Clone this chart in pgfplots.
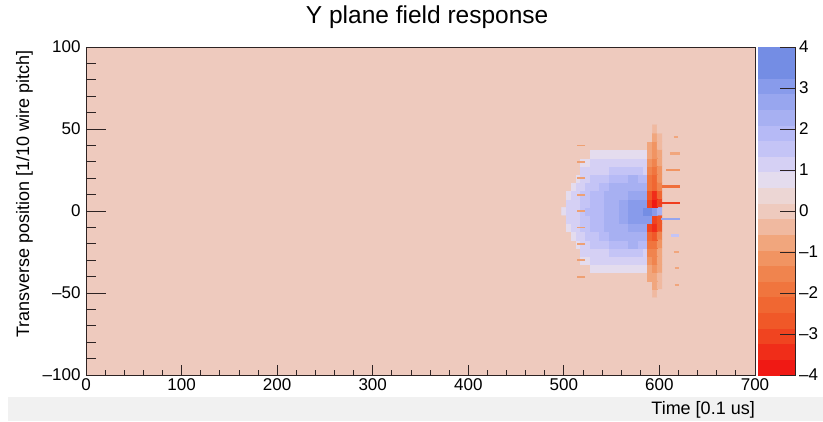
\documentclass[border=0pt]{standalone}
\usepackage{fontspec}
\setmainfont{Liberation Sans}
\usepackage{pgfplots}
\pgfplotsset{compat=1.18}

\definecolor{bgpeach}{RGB}{238,202,190}
\definecolor{framegray}{RGB}{45,35,35}
\definecolor{stripgray}{RGB}{241,241,241}
% streak colours, taken from the colormap bands
\definecolor{sk05}{RGB}{241,166,125}
\definecolor{sk10}{RGB}{241,148,98}
\definecolor{sk20}{RGB}{240,110,58}
\definecolor{sk30}{RGB}{240,60,30}
\definecolor{skblue}{RGB}{150,165,238}
\definecolor{sklblue}{RGB}{196,196,246}
\definecolor{tickorange}{RGB}{238,160,115}

\pgfplotsset{
    colormap={rootfield}{
        rgb255=(240,25,20)   rgb255=(240,45,25)   rgb255=(240,68,32)   rgb255=(240,88,40)
        rgb255=(240,103,50)  rgb255=(240,117,62)  rgb255=(240,132,78)  rgb255=(241,148,98)
        rgb255=(241,166,125) rgb255=(240,185,160) rgb255=(238,202,190) rgb255=(236,214,212)
        rgb255=(228,220,238) rgb255=(213,208,244) rgb255=(196,196,246) rgb255=(182,186,246)
        rgb255=(167,176,242) rgb255=(152,166,239) rgb255=(136,155,235) rgb255=(116,141,228)
        rgb255=(116,141,228)
    },
}

\newcommand{\tickfont}{\fontsize{17}{20}\selectfont}
\newcommand{\labfont}{\fontsize{18}{21}\selectfont}

\begin{document}
\begin{tikzpicture}
    % page = 823 x 421 px, axis box at px (86..755, 47..375)
    \useasboundingbox (-86pt,-46pt) rectangle (737pt,375pt);
    \fill[stripgray] (-78pt,-46pt) rectangle (737pt,-22pt);

    \begin{axis}[
        name=main,
        at={(0pt,0pt)}, anchor=south west,
        scale only axis,
        width=669pt, height=328pt,
        xmin=0, xmax=700, ymin=-100, ymax=100,
        axis background/.style={fill=bgpeach},
        axis on top,
        colormap name=rootfield,
        colormap access=piecewise constant,
        point meta min=-4, point meta max=4,
        xtick={0,100,...,700}, minor x tick num=4,
        ytick={-100,-50,0,50,100}, yticklabels={--100,--50,0,50,100},
        minor y tick num=4,
        tick pos=left, tick align=inside,
        xtick style={/pgfplots/major tick length=10pt, /pgfplots/minor tick length=5pt},
        ytick style={/pgfplots/major tick length=20pt, /pgfplots/minor tick length=10pt},
        tick style={framegray, line width=0.8pt},
        axis line style={framegray, line width=0.8pt},
        tick label style={font=\tickfont, /pgf/number format/assume math mode=true},
        yticklabel style={xshift=-2pt},
        title={Y plane field response},
        title style={font=\fontsize{24.5}{28}\selectfont, at={(axis description cs:0.51,1)},
            anchor=base, yshift=17pt},
        xlabel={Time [0.1 us]},
        xlabel style={font=\labfont, inner sep=0pt, at={(axis description cs:1,-0.08)},
            anchor=north east},
        ylabel={Transverse position [1/10 wire pitch]},
        ylabel style={font=\labfont, inner sep=0pt, at={(axis description cs:-0.079,0.99)},
            anchor=south east},
        colorbar,
        colorbar style={
            at={(parent axis.north east)}, anchor=north west, xshift=-6pt,
            width=38pt,
            ytick={-4,-3,...,4}, yticklabels={--4,--3,--2,--1,0,1,2,3,4},
            axis x line=none, axis y line*=right,
            axis on top,
            tick align=inside, major tick length=16pt,
            tick style={framegray, line width=0.8pt},
            axis line style={framegray, line width=0.8pt},
            yticklabel style={font=\tickfont, xshift=0pt},
        },
    ]

    % field response, 5 x 5 cells around the peak; value = colour level
    \addplot[matrix plot*, mesh/cols=21, point meta=explicit] coordinates {
(500,-50)[.1] (505,-50)[.1] (510,-50)[.1] (515,-50)[.1] (520,-50)[.1] (525,-50)[.1] (530,-50)[.1] (535,-50)[.1] (540,-50)[.1] (545,-50)[.1] (550,-50)[.1] (555,-50)[.1] (560,-50)[.1] (565,-50)[.1] (570,-50)[.1] (575,-50)[.1] (580,-50)[.1] (585,-50)[.1] (590,-50)[.1] (595,-50)[-.5] (600,-50)[.1]

(500,-45)[.1] (505,-45)[.1] (510,-45)[.1] (515,-45)[.1] (520,-45)[.1] (525,-45)[.1] (530,-45)[.1] (535,-45)[.1] (540,-45)[.1] (545,-45)[.1] (550,-45)[.1] (555,-45)[.1] (560,-45)[.1] (565,-45)[.1] (570,-45)[.1] (575,-45)[.1] (580,-45)[.1] (585,-45)[.1] (590,-45)[.1] (595,-45)[-.6] (600,-45)[-.3]

(500,-40)[.1] (505,-40)[.1] (510,-40)[.1] (515,-40)[.1] (520,-40)[.1] (525,-40)[.1] (530,-40)[.1] (535,-40)[.1] (540,-40)[.1] (545,-40)[.1] (550,-40)[.1] (555,-40)[.1] (560,-40)[.1] (565,-40)[.1] (570,-40)[.1] (575,-40)[.1] (580,-40)[.1] (585,-40)[.1] (590,-40)[-.6] (595,-40)[-.8] (600,-40)[-.5]

(500,-35)[.1] (505,-35)[.1] (510,-35)[.1] (515,-35)[.1] (520,-35)[.1] (525,-35)[.1] (530,-35)[.6] (535,-35)[.6] (540,-35)[.6] (545,-35)[.6] (550,-35)[.6] (555,-35)[.6] (560,-35)[.6] (565,-35)[.6] (570,-35)[.6] (575,-35)[.6] (580,-35)[.6] (585,-35)[.6] (590,-35)[-.9] (595,-35)[-1.1] (600,-35)[-.6]

(500,-30)[.1] (505,-30)[.1] (510,-30)[.1] (515,-30)[.1] (520,-30)[.6] (525,-30)[.6] (530,-30)[1] (535,-30)[1] (540,-30)[1] (545,-30)[1] (550,-30)[1] (555,-30)[1] (560,-30)[1] (565,-30)[1] (570,-30)[1] (575,-30)[1] (580,-30)[1] (585,-30)[1] (590,-30)[-1.2] (595,-30)[-1.4] (600,-30)[-.7]

(500,-25)[.1] (505,-25)[.1] (510,-25)[.1] (515,-25)[.1] (520,-25)[1] (525,-25)[1] (530,-25)[1] (535,-25)[1] (540,-25)[1.3] (545,-25)[1.3] (550,-25)[1.4] (555,-25)[1.4] (560,-25)[1.4] (565,-25)[1.4] (570,-25)[1.4] (575,-25)[1.4] (580,-25)[1.4] (585,-25)[1.3] (590,-25)[-1.5] (595,-25)[-1.6] (600,-25)[-.9]

(500,-20)[.1] (505,-20)[.1] (510,-20)[.1] (515,-20)[.6] (520,-20)[1] (525,-20)[1] (530,-20)[1.6] (535,-20)[1.7] (540,-20)[1.7] (545,-20)[1.7] (550,-20)[1.8] (555,-20)[1.8] (560,-20)[1.9] (565,-20)[1.9] (570,-20)[2.1] (575,-20)[2.1] (580,-20)[1.9] (585,-20)[1.8] (590,-20)[-1.8] (595,-20)[-2] (600,-20)[-1.2]

(500,-15)[.1] (505,-15)[.1] (510,-15)[.6] (515,-15)[1] (520,-15)[1] (525,-15)[1.6] (530,-15)[1.7] (535,-15)[1.7] (540,-15)[1.9] (545,-15)[1.9] (550,-15)[2.1] (555,-15)[2.1] (560,-15)[2.1] (565,-15)[2.2] (570,-15)[2.3] (575,-15)[2.3] (580,-15)[2.3] (585,-15)[2.2] (590,-15)[-2.2] (595,-15)[-2.6] (600,-15)[-1.6]

(500,-10)[.1] (505,-10)[.6] (510,-10)[1] (515,-10)[1] (520,-10)[1.4] (525,-10)[1.7] (530,-10)[1.8] (535,-10)[1.9] (540,-10)[2] (545,-10)[2.2] (550,-10)[2.3] (555,-10)[2.3] (560,-10)[2.4] (565,-10)[2.4] (570,-10)[2.5] (575,-10)[2.8] (580,-10)[2.8] (585,-10)[2.5] (590,-10)[-3] (595,-10)[-3.6] (600,-10)[-2.6]

(500,-5)[.1] (505,-5)[1] (510,-5)[1] (515,-5)[1.3] (520,-5)[1.4] (525,-5)[1.7] (530,-5)[1.8] (535,-5)[1.9] (540,-5)[2] (545,-5)[2.2] (550,-5)[2.3] (555,-5)[2.4] (560,-5)[2.5] (565,-5)[2.8] (570,-5)[3] (575,-5)[3] (580,-5)[3.1] (585,-5)[3.1] (590,-5)[3] (595,-5)[-3.2] (600,-5)[-2.5]

(500,0)[.6] (505,0)[1] (510,0)[1.2] (515,0)[1.3] (520,0)[1.6] (525,0)[1.8] (530,0)[1.8] (535,0)[1.9] (540,0)[2] (545,0)[2.2] (550,0)[2.3] (555,0)[2.4] (560,0)[2.6] (565,0)[2.8] (570,0)[3] (575,0)[3.1] (580,0)[3.2] (585,0)[3.3] (590,0)[3.4] (595,0)[3] (600,0)[2.2]

(500,5)[.1] (505,5)[1] (510,5)[1] (515,5)[1.3] (520,5)[1.4] (525,5)[1.7] (530,5)[1.8] (535,5)[1.9] (540,5)[2] (545,5)[2.2] (550,5)[2.3] (555,5)[2.4] (560,5)[2.5] (565,5)[2.8] (570,5)[3] (575,5)[3] (580,5)[3.1] (585,5)[3.1] (590,5)[-3] (595,5)[-3.8] (600,5)[-3]

(500,10)[.1] (505,10)[.6] (510,10)[1] (515,10)[1] (520,10)[1.4] (525,10)[1.7] (530,10)[1.8] (535,10)[1.9] (540,10)[2] (545,10)[2.2] (550,10)[2.3] (555,10)[2.3] (560,10)[2.4] (565,10)[2.4] (570,10)[2.5] (575,10)[2.8] (580,10)[2.8] (585,10)[2.5] (590,10)[-2.6] (595,10)[-3.3] (600,10)[-2.2]

(500,15)[.1] (505,15)[.1] (510,15)[.6] (515,15)[1] (520,15)[1] (525,15)[1.6] (530,15)[1.7] (535,15)[1.7] (540,15)[1.9] (545,15)[1.9] (550,15)[2.1] (555,15)[2.1] (560,15)[2.1] (565,15)[2.2] (570,15)[2.3] (575,15)[2.3] (580,15)[2.3] (585,15)[2.2] (590,15)[-2] (595,15)[-2.4] (600,15)[-1.5]

(500,20)[.1] (505,20)[.1] (510,20)[.1] (515,20)[.6] (520,20)[1] (525,20)[1] (530,20)[1.6] (535,20)[1.7] (540,20)[1.7] (545,20)[1.7] (550,20)[1.8] (555,20)[1.8] (560,20)[1.9] (565,20)[1.9] (570,20)[2.1] (575,20)[2.1] (580,20)[1.9] (585,20)[1.8] (590,20)[-1.8] (595,20)[-2.2] (600,20)[-1.2]

(500,25)[.1] (505,25)[.1] (510,25)[.1] (515,25)[.1] (520,25)[1] (525,25)[1] (530,25)[1] (535,25)[1] (540,25)[1.3] (545,25)[1.3] (550,25)[1.4] (555,25)[1.4] (560,25)[1.4] (565,25)[1.4] (570,25)[1.4] (575,25)[1.4] (580,25)[1.4] (585,25)[1.3] (590,25)[-1.5] (595,25)[-1.8] (600,25)[-1]

(500,30)[.1] (505,30)[.1] (510,30)[.1] (515,30)[.1] (520,30)[.6] (525,30)[.6] (530,30)[1] (535,30)[1] (540,30)[1] (545,30)[1] (550,30)[1] (555,30)[1] (560,30)[1] (565,30)[1] (570,30)[1] (575,30)[1] (580,30)[1] (585,30)[1] (590,30)[-1.2] (595,30)[-1.5] (600,30)[-.8]

(500,35)[.1] (505,35)[.1] (510,35)[.1] (515,35)[.1] (520,35)[.1] (525,35)[.1] (530,35)[.6] (535,35)[.6] (540,35)[.6] (545,35)[.6] (550,35)[.6] (555,35)[.6] (560,35)[.6] (565,35)[.6] (570,35)[.6] (575,35)[.6] (580,35)[.6] (585,35)[.6] (590,35)[-.8] (595,35)[-1.3] (600,35)[-.6]

(500,40)[.1] (505,40)[.1] (510,40)[.1] (515,40)[.1] (520,40)[.1] (525,40)[.1] (530,40)[.1] (535,40)[.1] (540,40)[.1] (545,40)[.1] (550,40)[.1] (555,40)[.1] (560,40)[.1] (565,40)[.1] (570,40)[.1] (575,40)[.1] (580,40)[.1] (585,40)[.1] (590,40)[-.6] (595,40)[-1] (600,40)[-.5]

(500,45)[.1] (505,45)[.1] (510,45)[.1] (515,45)[.1] (520,45)[.1] (525,45)[.1] (530,45)[.1] (535,45)[.1] (540,45)[.1] (545,45)[.1] (550,45)[.1] (555,45)[.1] (560,45)[.1] (565,45)[.1] (570,45)[.1] (575,45)[.1] (580,45)[.1] (585,45)[.1] (590,45)[.1] (595,45)[-.6] (600,45)[-.3]

(500,50)[.1] (505,50)[.1] (510,50)[.1] (515,50)[.1] (520,50)[.1] (525,50)[.1] (530,50)[.1] (535,50)[.1] (540,50)[.1] (545,50)[.1] (550,50)[.1] (555,50)[.1] (560,50)[.1] (565,50)[.1] (570,50)[.1] (575,50)[.1] (580,50)[.1] (585,50)[.1] (590,50)[.1] (595,50)[-.5] (600,50)[.1]
    };

    % thin streaks on the wire rows right of the peak
    \addplot[sk05, line width=2pt] coordinates {(615,45) (619,45)};
    \addplot[sk05, line width=2.5pt] coordinates {(611,35) (622,35)};
    \addplot[sk10, line width=2.5pt] coordinates {(607,25) (622,25)};
    \addplot[sk20, line width=2.5pt] coordinates {(603,15) (622,15)};
    \addplot[sk30, line width=2.5pt] coordinates {(600,5) (622,5)};
    \addplot[skblue, line width=2.5pt] coordinates {(602,-5) (622,-5)};
    \addplot[sklblue, line width=2.5pt] coordinates {(612,-15) (621,-15)};
    \addplot[sk05, line width=2pt] coordinates {(615,-25) (620,-25)};
    \addplot[sk05, line width=2pt] coordinates {(616,-35) (620,-35)};
    \addplot[sk05, line width=2pt] coordinates {(616,-45) (620,-45)};

    % small dashes on the left edge of the response
    \addplot[only marks, mark=-, mark size=4pt, mark options={line width=1.8pt, draw=tickorange}]
        coordinates {(518,-40) (518,-30) (518,-20) (518,-10) (518,0) (518,10) (518,20) (518,30) (518,40)};

    \end{axis}
\end{tikzpicture}
\end{document}
